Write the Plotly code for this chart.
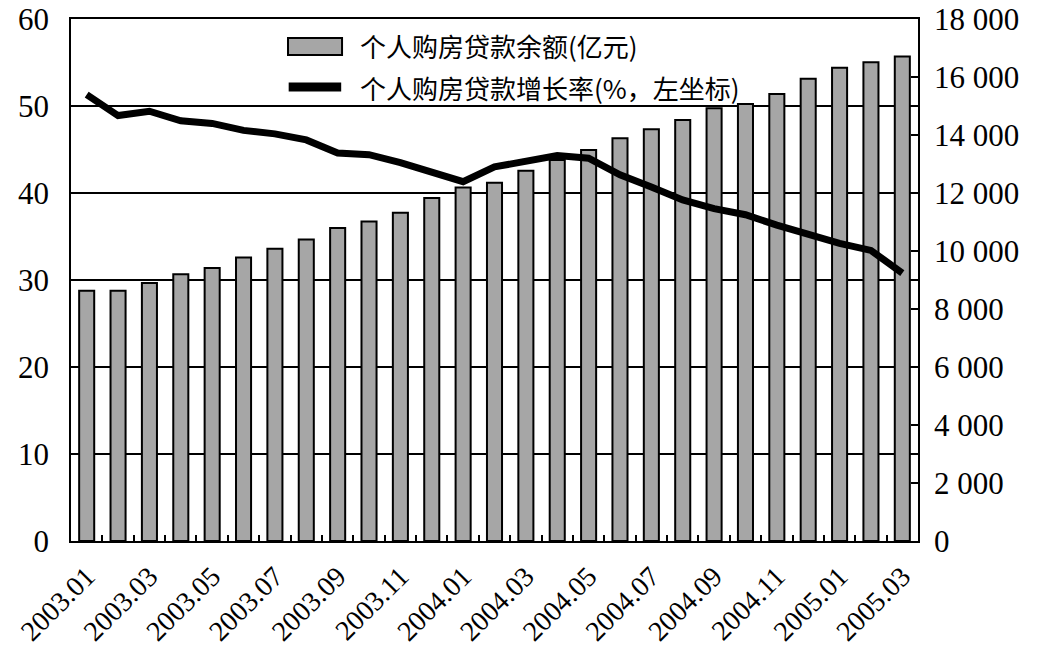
import plotly.graph_objects as go

months = ["2003.01", "2003.02", "2003.03", "2003.04", "2003.05", "2003.06", "2003.07",
          "2003.08", "2003.09", "2003.10", "2003.11", "2003.12", "2004.01", "2004.02",
          "2004.03", "2004.04", "2004.05", "2004.06", "2004.07", "2004.08", "2004.09",
          "2004.10", "2004.11", "2004.12", "2005.01", "2005.02", "2005.03"]
balance = [8630, 8630, 8900, 9200, 9410, 9780, 10080, 10400, 10790, 11020, 11320, 11830,
           12190, 12350, 12770, 13140, 13480, 13890, 14200, 14520, 14920, 15070, 15410,
           15940, 16320, 16510, 16710]
growth = [51.3, 48.9, 49.4, 48.3, 48.0, 47.2, 46.8, 46.1, 44.6, 44.4, 43.5, 42.4, 41.3,
          43.0, 43.7, 44.3, 44.0, 42.1, 40.7, 39.2, 38.2, 37.5, 36.3, 35.2, 34.2, 33.4, 30.8]
left_ticks = [0, 10, 20, 30, 40, 50, 60]
right_ticks = [0, 2000, 4000, 6000, 8000, 10000, 12000, 14000, 16000, 18000]
name_bar = "个人购房贷款余额(亿元)"
name_line = "个人购房贷款增长率(%，左坐标)"

idx = list(range(len(months)))
serif = "Liberation Serif"
cjk = "Noto Sans CJK SC"

fig = go.Figure()
fig.add_trace(go.Bar(x=idx, y=balance, name=name_bar, yaxis="y", width=0.48,
                     marker=dict(color="#a6a6a6", line=dict(color="black", width=2))))
fig.add_trace(go.Scatter(x=idx, y=growth, name=name_line, yaxis="y2", mode="lines",
                         line=dict(color="black", width=7)))

fig.update_layout(
    width=1039, height=652,
    margin=dict(l=71, r=121, t=19, b=111),
    paper_bgcolor="white", plot_bgcolor="white",
    showlegend=False,
    separators=". ",
    xaxis=dict(range=[-0.5, len(months) - 0.5], tickmode="array",
               tickvals=idx[::2], ticktext=months[::2], tickangle=-45,
               tickfont=dict(family=serif, size=28, color="black"), automargin=False,
               ticks="", showline=True, linecolor="black", linewidth=1.5, mirror=True,
               showgrid=False, zeroline=False, ticklabelstandoff=6,
               minor=dict(tickmode="array", tickvals=[i + 0.5 for i in idx[:-1]],
                          ticks="inside", ticklen=6, tickwidth=1.5, tickcolor="black",
                          showgrid=False)),
    yaxis=dict(side="right", range=[0, 18000], tickmode="array", tickvals=right_ticks,
               tickformat=",d", ticks="inside", ticklen=7, tickwidth=1.5, tickcolor="black",
               tickfont=dict(family=serif, size=31, color="black"), automargin=False,
               showline=True, linecolor="black", linewidth=1.5, mirror=True,
               showgrid=False, zeroline=False, ticklabelstandoff=8),
    yaxis2=dict(overlaying="y", side="left", range=[0, 60], tickmode="array",
                tickvals=left_ticks, ticks="", automargin=False,
                tickfont=dict(family=serif, size=31, color="black"),
                showgrid=True, gridcolor="black", gridwidth=1.5, zeroline=False,
                showline=False, ticklabelstandoff=21),
)

# legend drawn as key shapes with text
fig.add_shape(type="rect", xref="paper", yref="paper", x0=0.2562, x1=0.32, y0=0.931, y1=0.9636,
              fillcolor="#a6a6a6", line=dict(color="black", width=2))
fig.add_shape(type="line", xref="paper", yref="paper", x0=0.257, x1=0.319, y0=0.8697, y1=0.8697,
              line=dict(color="black", width=9))
fig.add_annotation(xref="paper", yref="paper", x=0.3388, y=0.950, xanchor="left", yanchor="middle",
                   text=name_bar, showarrow=False, font=dict(family=cjk, size=26, color="black"))
fig.add_annotation(xref="paper", yref="paper", x=0.3388, y=0.8697, xanchor="left", yanchor="middle",
                   text=name_line, showarrow=False, font=dict(family=cjk, size=26, color="black"))

fig.write_html("out.html")
